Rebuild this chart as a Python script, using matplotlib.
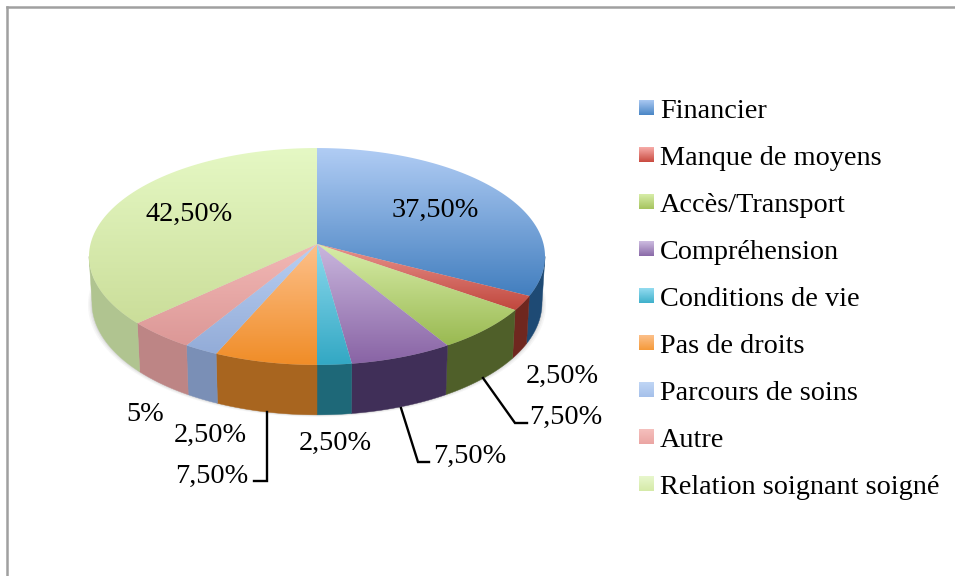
import matplotlib
matplotlib.use('Agg')
import matplotlib.pyplot as plt
from matplotlib.colors import LinearSegmentedColormap
from matplotlib.patches import Polygon
import numpy as np

categories = ['Financier', 'Manque de moyens', 'Accès/Transport', 'Compréhension',
              'Conditions de vie', 'Pas de droits', 'Parcours de soins', 'Autre',
              'Relation soignant soigné']
values = [37.5, 2.5, 7.5, 7.5, 2.5, 7.5, 2.5, 5, 42.5]

top_light = ['#b0ccf4', '#e8938e', '#d8eda9', '#c9b6dd', '#8cd9ed', '#fdc08a', '#b9cff2', '#f2b8b5', '#e5f8c4']
top_dark = ['#437fbf', '#c1483e', '#9aba52', '#8964a5', '#33a8c4', '#f08d28', '#93acd8', '#dc9897', '#cbde9a']
wall_colors = ['#1e4a74', '#6f271f', '#4f5f29', '#402f58', '#1e6878', '#a8651f', '#7a8fb6', '#bd8585', '#b0c490']
swatch_light = ['#a9c8f2', '#f7aca8', '#d7eda8', '#cdbce0', '#93dcf0', '#fcc08a', '#c0d6f5', '#f5c0bd', '#e8f7cd']
swatch_dark = ['#4a86c5', '#c94a40', '#a6c45f', '#8a6aa8', '#3fb0cb', '#f59a3a', '#a5c0ea', '#eba5a3', '#d5eaa8']

# where each percentage goes (centre x, baseline y), same order as values
label_x = [435, 562, 566, 470, 335, 212, 210, 145, 189]
label_y = [217, 383, 424, 463, 450, 483, 442, 421, 221]

FONT = 'Liberation Serif'
FONT_SIZE = 20.3
K = 0.115


def project(theta, cx, cy, rx, ry):
    # pie angle (clockwise from the top) to screen, with a bit of perspective
    s = -np.cos(theta)
    w = 1 - K * s
    return cx + rx * np.sin(theta) / w, cy + ry * s / w


def top_pt(theta):
    return project(theta, 317, 244, 226.5, 107)


def bottom_pt(theta):
    return project(theta, 317, 290, 223.5, 110.5)


def fmt(v):
    if v == int(v):
        return '%d%%' % v
    return ('%.2f%%' % v).replace('.', ',')


def gradient(ax, poly, light, dark):
    # vertical gradient clipped on the polygon
    cmap = LinearSegmentedColormap.from_list('g', [light, dark])
    x0, y0 = poly.min(axis=0)
    x1, y1 = poly.max(axis=0)
    im = ax.imshow(np.linspace(0, 1, 64).reshape(-1, 1), cmap=cmap, aspect='auto',
                   extent=(x0, x1, y1, y0), zorder=3, interpolation='bilinear')
    patch = Polygon(poly, closed=True, transform=ax.transData, fc='none', ec='none')
    ax.add_patch(patch)
    im.set_clip_path(patch)


fig = plt.figure(figsize=(9.55, 5.76), dpi=100)
ax = fig.add_axes([0, 0, 1, 1])
ax.axis('off')

# frame of the pasted chart
ax.plot([7, 7], [576, 7], color='#a0a0a0', lw=1.8, zorder=1, solid_capstyle='projecting')
ax.plot([7, 955], [7, 7], color='#a0a0a0', lw=1.8, zorder=1, solid_capstyle='projecting')

fractions = np.array(values) / sum(values)
edges = np.concatenate([[0], np.cumsum(fractions)]) * 2 * np.pi

# soft shadow under the pie
full = np.linspace(0, 2 * np.pi, 300)
for grow, alpha in zip([4, 2.5, 1.2], [0.05, 0.07, 0.1]):
    bx, by = bottom_pt(full)
    bx = 317 + (bx - 317) * (1 + grow / 223)
    by = by + grow * 0.5
    ax.fill(bx, by, color='#606060', alpha=alpha, lw=0, zorder=1.5)

# side walls, only the part facing us (between the two side extremes of the ellipse)
front_start = np.arccos(-K)
front_end = 2 * np.pi - front_start
for i in range(len(values)):
    a = max(edges[i], front_start)
    b = min(edges[i + 1], front_end)
    if a >= b:
        continue
    t = np.linspace(a, b, 100)
    tx, ty = top_pt(t)
    bx, by = bottom_pt(t)
    ax.fill(np.r_[tx, bx[::-1]], np.r_[ty, by[::-1]], color=wall_colors[i], lw=0.3, zorder=2)

# top faces
for i in range(len(values)):
    t = np.linspace(edges[i], edges[i + 1], 100)
    tx, ty = top_pt(t)
    poly = np.column_stack([np.r_[317, tx], np.r_[244, ty]])
    gradient(ax, poly, top_light[i], top_dark[i])

# data labels
for i, v in enumerate(values):
    ax.text(label_x[i], label_y[i], fmt(v), fontsize=FONT_SIZE, family=FONT, color='black',
            ha='center', va='baseline', zorder=5)

# leader lines
ax.plot([483, 515, 527], [378, 423, 423], color='black', lw=1.7, zorder=4, solid_joinstyle='miter')
ax.plot([401, 418, 429], [408, 462, 462], color='black', lw=1.7, zorder=4, solid_joinstyle='miter')
ax.plot([267, 267, 254], [412, 481, 481], color='black', lw=1.7, zorder=4, solid_joinstyle='miter')

# legend
for i, name in enumerate(categories):
    yc = 110 + 47 * i
    sq = np.array([[639, yc - 10], [654, yc - 10], [654, yc + 5], [639, yc + 5]])
    gradient(ax, sq, swatch_light[i], swatch_dark[i])
    ax.text(660, yc + 8, name, fontsize=FONT_SIZE, family=FONT, color='black', ha='left', va='baseline', zorder=5)

ax.set_xlim(0, 955)
ax.set_ylim(576, 0)
fig.savefig('out.png', dpi=100, facecolor='white')
